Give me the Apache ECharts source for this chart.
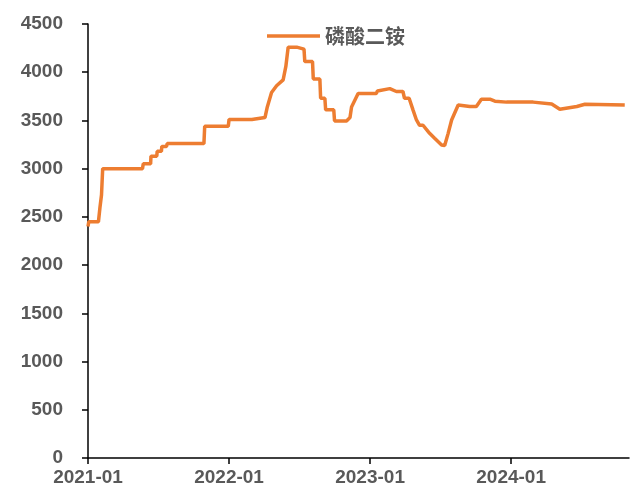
<!DOCTYPE html>
<html>
<head>
<meta charset="utf-8">
<script src="https://cdn.jsdelivr.net/npm/echarts@6/dist/echarts.min.js"></script>
<style>
  html, body { margin: 0; padding: 0; background: #fff; }
  #main { width: 633px; height: 490px; }
</style>
</head>
<body>
<div id="main"></div>
<script>
// 磷酸二铵 价格（元/吨），按日期读取的变动点
var seriesName = '磷酸二铵';
var dates = [
    '2021-01-01', '2021-01-03', '2021-01-28', '2021-02-01', '2021-02-05', '2021-02-08',
    '2021-05-22', '2021-05-24', '2021-06-12', '2021-06-13', '2021-06-28', '2021-06-29',
    '2021-07-10', '2021-07-11', '2021-07-23', '2021-07-25', '2021-10-28', '2021-10-30',
    '2021-12-30', '2022-01-01', '2022-03-01', '2022-03-02', '2022-04-04', '2022-04-10',
    '2022-04-21', '2022-05-04', '2022-05-21', '2022-05-28', '2022-06-03', '2022-06-25',
    '2022-06-28', '2022-07-14', '2022-07-16', '2022-08-05', '2022-08-07', '2022-08-24',
    '2022-08-26', '2022-09-06', '2022-09-08', '2022-09-29', '2022-10-01', '2022-11-01',
    '2022-11-10', '2022-11-14', '2022-12-01', '2023-01-17', '2023-01-20', '2023-02-21',
    '2023-03-10', '2023-03-27', '2023-03-31', '2023-04-12', '2023-04-22', '2023-05-01',
    '2023-05-09', '2023-05-18', '2023-06-04', '2023-06-17', '2023-07-05', '2023-07-13',
    '2023-07-22', '2023-07-31', '2023-08-17', '2023-09-16', '2023-10-03', '2023-10-16',
    '2023-11-07', '2023-11-20', '2023-12-20', '2024-02-27', '2024-04-15', '2024-05-06',
    '2024-06-19', '2024-07-10', '2024-10-21'
];
var prices = [
    2400, 2450, 2450, 2600, 2730, 3000,
    3000, 3050, 3050, 3130, 3130, 3180,
    3180, 3230, 3230, 3260, 3260, 3440,
    3440, 3510, 3510, 3530, 3530, 3640,
    3790, 3860, 3920, 4060, 4260, 4260,
    4240, 4240, 4110, 4110, 3930, 3930,
    3730, 3730, 3610, 3610, 3495, 3495,
    3530, 3640, 3780, 3780, 3805, 3830,
    3800, 3800, 3730, 3730, 3610, 3505,
    3450, 3450, 3366, 3315, 3245, 3240,
    3366, 3505, 3660, 3645, 3645, 3720,
    3720, 3700, 3690, 3690, 3670, 3616,
    3645, 3668, 3660
];
var xMin = '2021-01-01';
var xMax = '2024-11-01';
var yTicks = [0, 500, 1000, 1500, 2000, 2500, 3000, 3500, 4000, 4500];

var data = [];
for (var i = 0; i < dates.length; i++) {
    data.push([dates[i], prices[i]]);
}

var labelColor = '#595959';
var myChart = echarts.init(document.getElementById('main'));
var YEAR = 365 * 24 * 3600 * 1000;
var option = {
    animation: false,
    textStyle: { fontFamily: 'Arial, "Liberation Sans", sans-serif' },
    legend: {
        data: [{ name: seriesName, icon: 'rect' }],
        left: 262,
        top: 21,
        itemWidth: 53,
        itemHeight: 3.5,
        textStyle: {
            color: labelColor,
            fontSize: 20,
            fontWeight: 'bold',
            fontFamily: '"Noto Sans CJK SC", sans-serif'
        }
    },
    grid: { left: 88, right: 4, top: 24, bottom: 32 },
    xAxis: {
        type: 'time',
        min: xMin,
        max: xMax,
        minInterval: YEAR,
        maxInterval: YEAR,
        splitLine: { show: false },
        axisLine: { lineStyle: { color: '#000', width: 1.5 } },
        axisTick: { show: true, length: 6, lineStyle: { color: '#000', width: 1.5 } },
        axisLabel: {
            color: labelColor,
            fontSize: 19,
            fontWeight: 'bold',
            margin: 10,
            showMaxLabel: false,
            formatter: '{yyyy}-{MM}'
        }
    },
    yAxis: {
        type: 'value',
        min: yTicks[0],
        max: yTicks[yTicks.length - 1],
        interval: 500,
        splitLine: { show: false },
        axisLine: { show: true, lineStyle: { color: '#000', width: 1.5 } },
        axisTick: { show: true, length: 6, lineStyle: { color: '#000', width: 1.5 } },
        axisLabel: {
            color: labelColor,
            fontSize: 19,
            fontWeight: 'bold',
            margin: 25,
            formatter: function (v) { return String(v); }
        }
    },
    series: [
        {
            name: seriesName,
            type: 'line',
            data: data,
            symbol: 'none',
            lineStyle: { color: '#ED7D31', width: 3.5 },
            itemStyle: { color: '#ED7D31' }
        }
    ]
};
myChart.setOption(option);
</script>
</body>
</html>
